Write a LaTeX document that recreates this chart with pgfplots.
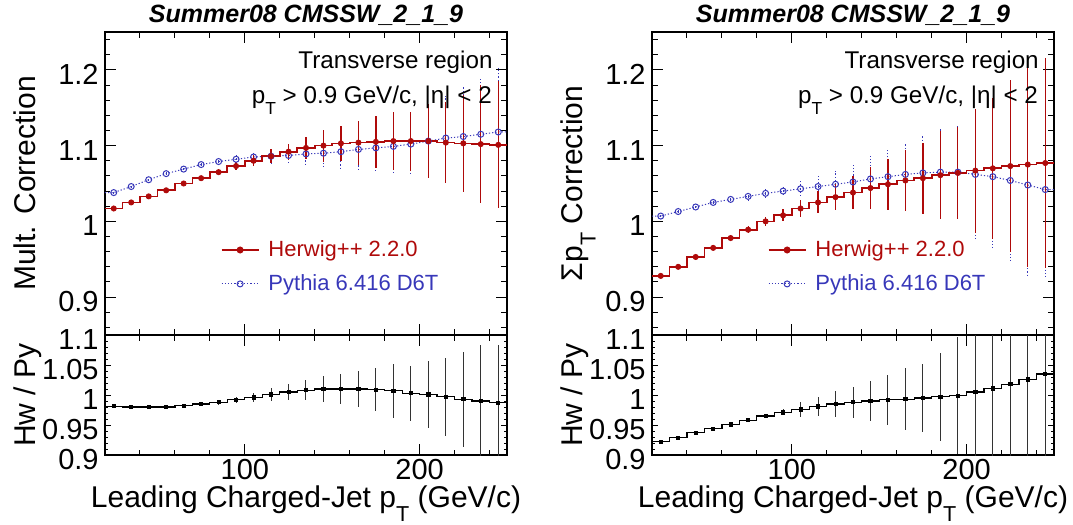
\documentclass[border=0pt]{standalone}
\usepackage{fontspec}
\setmainfont{Liberation Sans}
\usepackage{graphicx}
\usepackage{pgfplots}
\usepackage{pgfplotstable}
\pgfplotsset{compat=1.18}
\definecolor{hwred}{RGB}{175,10,10}
\definecolor{pyblue}{RGB}{55,55,185}
\newcommand{\sub}[1]{\raisebox{-0.45em}{\scalebox{0.72}{#1}}}
\tikzset{boxtext/.style={anchor=base east, inner sep=0pt, font=\fontsize{12.1}{14}\selectfont}}

\pgfplotstableread{
x   hw     ehw     py     epy
20  1.017  0       1.038  0
25  1.017  0.001   1.038  0.001
35  1.025  0.001   1.046  0.001
45  1.033  0.0015  1.055  0.0015
55  1.041  0.002   1.063  0.002
65  1.050  0.002   1.069  0.002
75  1.057  0.003   1.075  0.003
85  1.065  0.004   1.079  0.004
95  1.073  0.005   1.082  0.005
105 1.080  0.007   1.085  0.007
115 1.086  0.009   1.086  0.009
125 1.092  0.0105  1.087  0.011
135 1.097  0.014   1.089  0.014
145 1.100  0.021   1.090  0.018
155 1.103  0.023   1.092  0.022
165 1.104  0.029   1.095  0.026
175 1.105  0.034   1.097  0.030
185 1.106  0.038   1.099  0.036
195 1.106  0.039   1.102  0.040
205 1.106  0.049   1.106  0.048
215 1.104  0.054   1.110  0.055
225 1.103  0.064   1.112  0.066
235 1.102  0.078   1.115  0.076
245 1.101  0.084   1.118  0.085
250 1.101  0       1.118  0
}\multtab

\pgfplotstableread{
x   hw     ehw     py     epy
20  0.928  0       1.007  0
25  0.928  0.002   1.007  0.002
35  0.940  0.002   1.013  0.002
45  0.953  0.003   1.019  0.003
55  0.965  0.003   1.025  0.003
65  0.978  0.004   1.029  0.004
75  0.989  0.005   1.033  0.005
85  1.000  0.006   1.037  0.006
95  1.008  0.008   1.040  0.008
105 1.017  0.011   1.043  0.011
115 1.025  0.0145  1.046  0.015
125 1.032  0.017   1.049  0.018
135 1.038  0.022   1.052  0.023
145 1.044  0.028   1.056  0.030
155 1.049  0.034   1.059  0.036
165 1.054  0.040   1.062  0.042
175 1.057  0.047   1.064  0.049
185 1.061  0.058   1.065  0.058
195 1.064  0.061   1.065  0.063
205 1.067  0.082   1.062  0.085
215 1.070  0.093   1.059  0.095
225 1.073  0.113   1.054  0.106
235 1.075  0.135   1.048  0.121
245 1.077  0.139   1.042  0.117
250 1.077  0       1.042  0
}\sumtab

\pgfplotstableread{
x   r       er
20  0.9815  0
25  0.9815  0.001
35  0.980   0.001
45  0.980   0.001
55  0.980   0.0015
65  0.982   0.002
75  0.985   0.003
85  0.988   0.004
95  0.992   0.005
105 0.996   0.008
115 1.001   0.011
125 1.005   0.0135
135 1.008   0.017
145 1.010   0.021
155 1.010   0.025
165 1.010   0.030
175 1.009   0.036
185 1.007   0.045
195 1.003   0.046
205 1.001   0.056
215 0.997   0.065
225 0.993   0.079
235 0.990   0.093
245 0.987   0.097
250 0.987   0
}\multratio

\pgfplotstableread{
x   r       er
20  0.922   0
25  0.922   0.001
35  0.929   0.001
45  0.937   0.0015
55  0.944   0.002
65  0.951   0.002
75  0.958   0.003
85  0.965   0.004
95  0.971   0.005
105 0.976   0.012
115 0.981   0.016
125 0.985   0.021
135 0.988   0.026
145 0.990   0.034
155 0.992   0.042
165 0.993   0.052
175 0.995   0.057
185 0.997   0.073
195 0.999   0.097
205 1.005   0.12
215 1.011   0.13
225 1.018   0.14
235 1.026   0.15
245 1.035   0.16
250 1.035   0
}\sumratio

\pgfplotsset{
  baseax/.style={
    scale only axis, width=201pt, xmin=20, xmax=250, anchor=north west,
    axis line style={line width=1pt}, tick align=inside,
    xtick pos=both, ytick pos=both,
    tick style={black, line width=0.5pt},
    xtick={100,200}, minor xtick={40,60,80,120,140,160,180,220,240},
    major tick length=5.5pt, minor tick length=2.75pt,
    yticklabel style={font=\fontsize{14.5}{17}\selectfont, anchor=east, inner sep=0pt, xshift=-3pt, yshift=-2.2pt},
    ylabel style={at={(axis description cs:-0.174,0.5)}, anchor=base, font=\fontsize{15}{18}\selectfont},
  },
  topax/.style={
    baseax, height=151.5pt, ymin=0.85, ymax=1.25,
    ytick={0.9,1,1.1,1.2}, yticklabels={0.9,1,1.1,1.2},
    minor ytick={0.86,0.88,0.92,0.94,0.96,0.98,1.02,1.04,1.06,1.08,1.12,1.14,1.16,1.18,1.22,1.24},
    xticklabels={,,},
    title={Summer08 CMSSW\_2\_1\_9},
    title style={at={(axis description cs:0.5,1)}, anchor=base, yshift=-1pt, font=\fontsize{12.5}{15}\selectfont\bfseries\itshape},
    legend style={draw=none, fill=none, at={(axis description cs:0.288,0.325)}, anchor=north west,
      font=\fontsize{11}{13}\selectfont, row sep=3.5pt, column sep=2.5pt, inner sep=0pt, outer sep=0pt},
    legend cell align=left,
    legend image code/.code={\draw[mark repeat=2, mark phase=2, ##1] plot coordinates {(0pt,0pt) (9.25pt,0pt) (18.5pt,0pt)};},
  },
  botax/.style={
    baseax, height=60pt, ymin=0.9, ymax=1.1,
    ytick={0.9,0.95,1,1.05,1.1}, yticklabels={0.9,0.95,1,1.05,1.1},
    minor ytick={0.91,0.92,0.93,0.94,0.96,0.97,0.98,0.99,1.01,1.02,1.03,1.04,1.06,1.07,1.08,1.09},
    ytick style={/pgfplots/major tick length=3pt, /pgfplots/minor tick length=1.5pt},
    xticklabels={100,200},
    xticklabel style={font=\fontsize{14.5}{17}\selectfont, anchor=base, inner sep=0pt, yshift=-12pt},
    xlabel={Leading Charged-Jet p\sub{T} (GeV/c)},
    xlabel style={at={(axis description cs:0.5,-0.44)}, anchor=base, inner sep=0pt, font=\fontsize{15}{18}\selectfont},
    ylabel={Hw / Py},
  },
  hwstep/.style={hwred, line width=0.85pt, const plot mark mid, forget plot},
  pyline/.style={pyblue, line width=0.5pt, dash pattern=on 0.6pt off 1pt, forget plot},
  hwpts/.style={hwred, only marks, mark=*, mark size=1.3pt, restrict x to domain=22:248, forget plot,
    error bars/.cd, y dir=both, y explicit, error mark=none, error bar style={line width=0.6pt, hwred}},
  pypts/.style={pyblue, only marks, mark=o, mark size=1.5pt, mark options={line width=0.5pt, solid}, restrict x to domain=22:248, forget plot,
    error bars/.cd, y dir=both, y explicit, error mark=none, error bar style={line width=0.5pt, pyblue, dash pattern=on 0.6pt off 1pt}},
  rstep/.style={black, line width=0.6pt, const plot mark mid, forget plot},
  rpts/.style={black, only marks, mark=square*, mark size=0.8pt, restrict x to domain=22:248, forget plot,
    error bars/.cd, y dir=both, y explicit, error mark=none, error bar style={line width=0.5pt, black!80}},
}

\begin{document}
\begin{tikzpicture}
\useasboundingbox (0pt,0pt) rectangle (536.5pt,-262.5pt);

% ---------- left top ----------
\begin{axis}[topax, at={(52.5pt,-16pt)}, ylabel={Mult. Correction}]
\addplot[pyline] table[x=x,y=py]{\multtab};
\addplot[pypts] table[x=x,y=py,y error=epy]{\multtab};
\addplot[hwstep] table[x=x,y=hw]{\multtab};
\addplot[hwpts] table[x=x,y=hw,y error=ehw]{\multtab};
\addlegendimage{hwred, line width=0.85pt, mark=*, mark size=1.3pt}
\addlegendentry{\textcolor{hwred}{Herwig++ 2.2.0}}
\addlegendimage{pyblue, line width=0.5pt, dash pattern=on 0.6pt off 1pt, mark=o, mark size=1.5pt, mark options={solid, line width=0.5pt}}
\addlegendentry{\textcolor{pyblue}{Pythia 6.416 D6T}}
\node[boxtext] at (axis description cs:0.965,0.880) {Transverse region};
\node[boxtext] at (axis description cs:0.963,0.765) {p\sub{T} > 0.9 GeV/c, |η| < 2};
\end{axis}

% ---------- left bottom ----------
\begin{axis}[botax, at={(52.5pt,-167.5pt)}]
\addplot[rstep] table[x=x,y=r]{\multratio};
\addplot[rpts] table[x=x,y=r,y error=er]{\multratio};
\end{axis}

% ---------- right top ----------
\begin{axis}[topax, at={(326pt,-16pt)}, ylabel={Σp\sub{T} Correction}]
\addplot[pyline] table[x=x,y=py]{\sumtab};
\addplot[pypts] table[x=x,y=py,y error=epy]{\sumtab};
\addplot[hwstep] table[x=x,y=hw]{\sumtab};
\addplot[hwpts] table[x=x,y=hw,y error=ehw]{\sumtab};
\addlegendimage{hwred, line width=0.85pt, mark=*, mark size=1.3pt}
\addlegendentry{\textcolor{hwred}{Herwig++ 2.2.0}}
\addlegendimage{pyblue, line width=0.5pt, dash pattern=on 0.6pt off 1pt, mark=o, mark size=1.5pt, mark options={solid, line width=0.5pt}}
\addlegendentry{\textcolor{pyblue}{Pythia 6.416 D6T}}
\node[boxtext] at (axis description cs:0.963,0.880) {Transverse region};
\node[boxtext] at (axis description cs:0.961,0.765) {p\sub{T} > 0.9 GeV/c, |η| < 2};
\end{axis}

% ---------- right bottom ----------
\begin{axis}[botax, at={(326pt,-167.5pt)}]
\addplot[rstep] table[x=x,y=r]{\sumratio};
\addplot[rpts] table[x=x,y=r,y error=er]{\sumratio};
\end{axis}
\end{tikzpicture}
\end{document}
